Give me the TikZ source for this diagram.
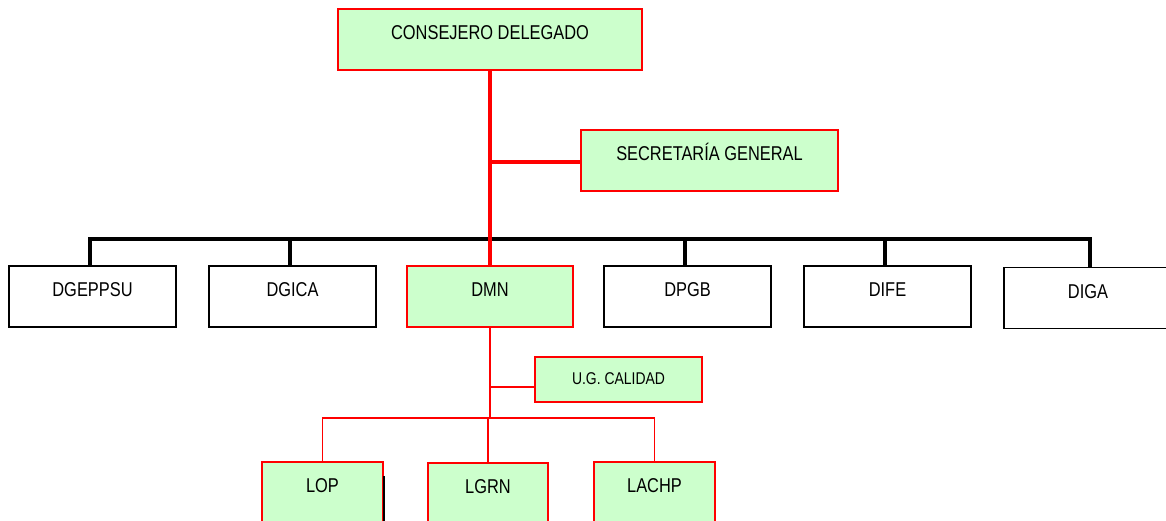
\documentclass[tikz,border=0pt]{standalone}
\usepackage{fontspec}
\setmainfont{Liberation Sans}[FakeStretch=0.82]
\definecolor{boxgreen}{HTML}{CCFFCC}

\begin{document}
\begin{tikzpicture}[x=1pt,y=-1pt,line join=miter,
    main node/.style={rectangle,draw=red,line width=2pt,fill=boxgreen,minimum width=167pt,minimum height=61pt,inner sep=0pt,font=\fontsize{20}{24}\selectfont,text height=14pt,text depth=14pt},
    white node/.style={main node,draw=black,line width=1.6pt,fill=white},
    small node/.style={main node,minimum height=45pt,font=\fontsize{17}{20}\selectfont,text height=12pt,text depth=3pt},
    lab node/.style={main node,minimum width=121pt},
    thick line/.style={line width=4pt},
    thin line/.style={red,line width=1.5pt}]
    \clip (0,0) rectangle (1166,521);

    \node[main node, minimum width=304pt] (CD) at (490,39.5) {CONSEJERO DELEGADO};
    \node[main node, minimum width=257pt] (SG) at (709.5,160.5) {SECRETARÍA GENERAL};

    \node[white node] (DGEPPSU) at (92.5,296.5) {DGEPPSU};
    \node[white node] (DGICA) at (292.5,296.5) {DGICA};
    \node[main node, minimum width=166pt] (DMN) at (490,296.5) {DMN};
    \node[white node] (DPGB) at (687.5,296.5) {DPGB};
    \node[white node] (DIFE) at (887.5,296.5) {DIFE};
    \node[white node, minimum width=168pt] (DIGA) at (1088,298) {DIGA};

    \node[small node] (UGC) at (618.5,379.5) {U.G. CALIDAD};

    \node[lab node] (LOP) at (322.5,492.5) {LOP};
    \node[lab node, minimum width=120pt] (LGRN) at (488,493) {LGRN};
    \node[lab node] (LACHP) at (654.5,492.5) {LACHP};

    \coordinate (bus) at (0,239);
    \coordinate (labbus) at (0,418);
    \coordinate (ugcin) at ([yshift=-7.5pt]UGC.west);

    % directorates
    \draw[black, thick line] ([xshift=-2.5pt]DGEPPSU.north) -- ([xshift=-2.5pt]DGEPPSU.north |- bus)
        -- ([xshift=2pt]DIGA.north |- bus) -- ([xshift=2pt]DIGA.north);
    \foreach \n in {DGICA,DPGB,DIFE}
        \draw[black, thick line] ([xshift=-2.5pt]\n.north) -- ([xshift=-2.5pt]\n.north |- bus);

    % main red line
    \draw[red, thick line] (CD.south) -- (DMN.north);
    \draw[red, thick line] ([yshift=-1.5pt]CD.south |- SG.west) -- ([yshift=-1.5pt]SG.west);

    % under DMN
    \draw[thin line] (DMN.south) -- (DMN.south |- labbus);
    \draw[thin line] (ugcin) -- (DMN.south |- ugcin);
    \draw[thin line] (LOP.north) -- (LOP.north |- labbus) -- (LACHP.north |- labbus) -- (LACHP.north);
    \draw[thin line] (LGRN.north) -- (LGRN.north |- labbus);
    \draw[black, line width=1.6pt] ([yshift=-15pt]LOP.north east) -- (LOP.south east);
\end{tikzpicture}
\end{document}
